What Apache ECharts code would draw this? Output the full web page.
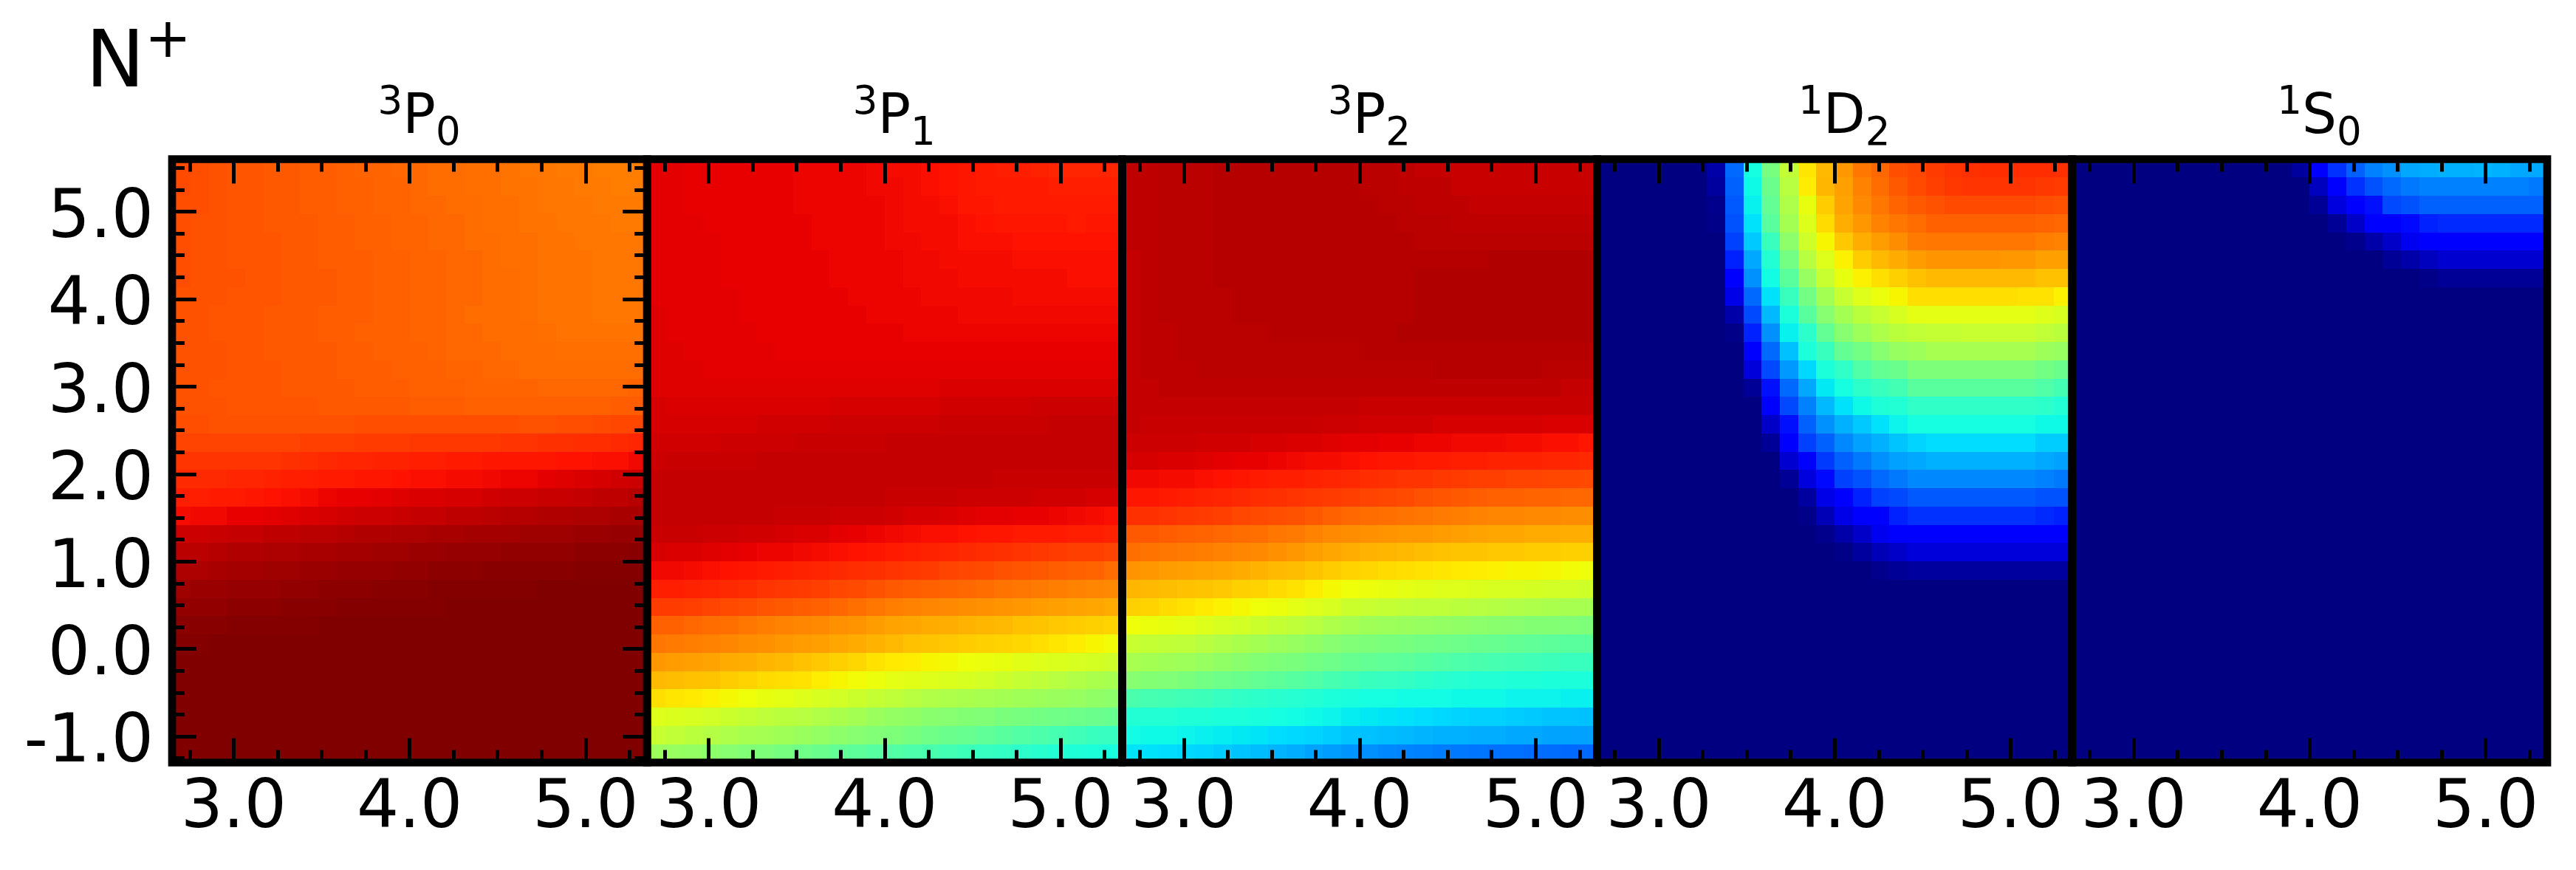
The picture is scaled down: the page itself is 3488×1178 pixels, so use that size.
<!DOCTYPE html>
<html>
<head>
<meta charset="utf-8">
<title>N+</title>
<style>
html, body { margin: 0; padding: 0; background: #fff; }
#chart { width: 3488px; height: 1178px; }
</style>
<script src="https://cdn.jsdelivr.net/npm/echarts@6/dist/echarts.min.js"></script>
</head>
<body>
<div id="chart"></div>
<script>
var panelNames = [['3', 'P', '0'], ['3', 'P', '1'], ['3', 'P', '2'], ['1', 'D', '2'], ['1', 'S', '0']];

// bin centres, y from the top of the panel down
var xBins = [2.702,2.806,2.910,3.014,3.117,3.221,3.325,3.429,3.533,3.637,3.740,3.844,3.948,4.052,4.156,4.260,4.363,4.467,4.571,4.675,4.779,4.883,4.986,5.090,5.194,5.298];
var yBins = [5.495,5.286,5.077,4.868,4.659,4.450,4.241,4.032,3.823,3.614,3.405,3.195,2.986,2.777,2.568,2.359,2.150,1.941,1.732,1.523,1.314,1.105,0.895,0.686,0.477,0.268,0.059,-0.150,-0.359,-0.568,-0.777,-0.986,-1.195];

var xMajor = [3, 4, 5];
var xMinor = [2.75, 3.25, 3.5, 3.75, 4.25, 4.5, 4.75, 5.25];
var yMajor = [-1, 0, 1, 2, 3, 4, 5];
var yMinor = [-1.25, -0.75, -0.5, -0.25, 0.25, 0.5, 0.75, 1.25, 1.5, 1.75, 2.25, 2.5, 2.75, 3.25, 3.5, 3.75, 4.25, 4.5, 4.75, 5.25, 5.5];

// jet index 0-255 per cell, rows listed from the top of the panel down
var p3P0 = [
[212,211,210,209,209,208,208,207,207,206,205,205,204,204,203,203,202,202,201,200,200,199,199,198,198,198],
[212,211,210,209,209,208,208,207,207,206,206,205,205,204,203,203,202,202,201,201,200,200,199,199,198,198],
[211,211,210,209,209,208,208,207,207,206,206,205,205,204,204,203,203,202,202,201,200,200,200,199,199,199],
[211,210,210,209,209,208,208,208,207,207,206,206,205,205,204,204,203,202,202,201,201,200,200,200,199,199],
[211,210,210,209,209,209,208,208,207,207,206,206,205,205,204,204,203,203,202,202,201,201,200,200,200,200],
[211,210,210,209,209,209,208,208,207,207,207,206,206,205,205,204,204,203,202,202,201,201,201,200,200,200],
[211,210,210,210,209,209,208,208,208,207,207,206,206,205,205,204,204,203,203,202,201,201,201,200,200,200],
[210,210,210,209,209,209,208,208,208,207,207,206,206,205,205,204,204,203,203,202,201,201,201,200,200,200],
[210,210,209,209,209,208,208,208,207,207,207,206,206,205,205,204,203,203,203,202,201,201,201,200,200,200],
[210,210,209,209,209,208,208,208,207,207,206,206,206,205,205,204,204,203,203,203,202,201,201,201,201,201],
[210,210,210,209,209,208,208,208,208,207,207,206,206,206,205,204,204,204,203,203,203,202,202,202,202,202],
[210,210,210,209,209,209,208,208,208,207,207,207,206,206,206,205,205,204,204,203,203,203,203,203,203,203],
[210,210,209,209,209,209,208,208,208,208,207,207,207,206,206,206,205,205,205,205,204,204,204,204,204,205],
[210,210,210,209,209,209,209,209,208,208,208,208,208,207,207,207,206,206,206,206,206,206,206,206,207,207],
[211,211,210,210,210,210,210,210,210,210,211,211,211,211,211,211,211,211,211,210,210,211,211,212,213,213],
[214,214,214,214,214,214,214,215,215,215,216,216,216,217,217,217,217,217,218,218,219,219,220,220,221,222],
[218,218,218,218,218,218,219,220,221,222,222,223,223,224,224,225,225,226,226,226,226,227,227,228,228,230],
[221,221,221,222,222,223,224,224,225,225,226,226,227,228,228,229,229,230,231,231,233,234,235,236,237,238],
[224,224,225,225,226,227,228,229,231,232,232,233,234,235,235,236,236,237,238,238,239,239,240,241,241,243],
[229,230,230,232,232,233,234,235,236,237,238,238,239,240,240,241,241,242,243,243,244,244,245,245,246,246],
[238,238,239,240,240,241,241,242,242,243,244,244,245,245,246,246,247,247,247,248,248,248,249,249,250,250],
[242,242,243,244,244,245,245,246,246,247,247,248,248,249,249,250,250,250,251,251,251,251,252,252,252,253],
[245,245,246,247,247,248,248,249,249,250,250,250,251,251,252,252,252,253,253,253,253,253,254,254,254,254],
[248,249,249,250,250,250,251,251,252,252,252,253,253,253,254,254,254,254,254,254,255,255,255,255,255,255],
[251,251,251,252,252,252,253,253,253,254,254,254,254,254,254,255,255,255,255,255,255,255,255,255,255,255],
[253,253,253,254,254,254,254,254,255,255,255,255,255,255,255,255,255,255,255,255,255,255,255,255,255,255],
[254,254,255,255,255,255,255,255,255,255,255,255,255,255,255,255,255,255,255,255,255,255,255,255,255,255],
[255,255,255,255,255,255,255,255,255,255,255,255,255,255,255,255,255,255,255,255,255,255,255,255,255,255],
[255,255,255,255,255,255,255,255,255,255,255,255,255,255,255,255,255,255,255,255,255,255,255,255,255,255],
[255,255,255,255,255,255,255,255,255,255,255,255,255,255,255,255,255,255,255,255,255,255,255,255,255,255],
[255,255,255,255,255,255,255,255,255,255,255,255,255,255,255,255,255,255,255,255,255,255,255,255,255,255],
[255,255,255,255,255,255,255,255,255,255,255,255,255,255,255,255,255,255,255,255,255,255,255,255,255,255],
[255,255,255,255,255,255,255,255,255,255,255,255,255,255,255,255,255,255,255,255,255,255,255,255,255,255]
];
var p3P1 = [
[233,233,232,232,232,232,232,232,231,231,231,231,230,229,229,228,227,226,225,224,224,223,222,222,222,222],
[233,233,232,232,232,232,232,232,231,231,231,231,230,230,229,228,227,226,225,225,225,225,224,224,224,224],
[233,233,232,232,232,232,232,232,231,231,231,231,231,230,229,229,228,226,226,225,225,225,225,225,225,225],
[233,233,233,232,232,232,232,232,232,231,231,231,231,230,229,229,229,228,227,226,226,226,226,225,226,226],
[233,233,233,233,232,232,232,232,232,231,231,231,231,230,230,229,229,228,228,228,227,227,227,227,227,227],
[233,233,233,233,232,232,232,232,232,232,231,231,231,231,230,230,229,229,229,229,228,228,228,228,228,228],
[233,233,233,233,232,232,232,232,232,232,231,231,231,231,230,230,230,229,229,229,229,229,229,228,228,228],
[233,233,233,233,233,232,232,232,232,232,232,231,231,231,231,230,230,230,230,230,229,229,229,229,229,229],
[234,233,233,233,233,232,232,232,232,232,232,232,231,231,231,231,231,230,230,230,230,230,230,230,230,230],
[234,233,233,233,233,233,232,232,232,232,232,232,232,232,231,231,231,231,231,231,231,231,231,231,231,231],
[234,234,233,233,233,233,233,232,232,232,232,232,232,232,232,232,232,232,232,232,232,232,232,232,232,232],
[234,234,234,233,233,233,233,233,233,233,233,233,233,233,233,233,233,233,233,233,233,233,233,233,233,233],
[234,234,234,234,234,234,234,234,234,234,234,234,234,234,234,234,235,235,235,235,235,235,235,235,235,235],
[236,235,235,235,235,235,235,235,235,235,236,236,236,236,236,236,237,237,237,237,237,238,238,238,238,238],
[236,236,236,236,236,236,237,237,237,237,238,238,238,238,238,238,239,239,239,239,239,239,240,240,240,240],
[237,237,237,237,238,238,238,238,239,239,239,239,239,240,240,240,240,240,240,240,240,240,240,240,240,240],
[238,239,239,239,239,239,240,240,240,240,240,240,240,240,240,240,240,240,240,240,240,240,240,240,240,240],
[240,240,240,240,240,240,240,240,240,240,240,240,240,240,240,240,240,240,240,239,239,239,239,239,239,239],
[240,240,240,240,240,240,240,240,240,240,240,240,240,239,239,239,239,238,238,238,238,237,237,237,236,236],
[240,240,240,240,240,240,240,239,239,239,238,238,238,237,236,236,235,234,233,233,232,232,231,230,229,228],
[239,239,239,238,238,237,237,236,235,235,233,232,231,230,229,228,228,227,226,226,225,225,225,224,224,223],
[236,235,235,234,233,232,231,231,230,229,228,227,226,225,224,223,222,221,220,219,218,217,216,215,215,214],
[230,230,229,228,227,226,225,224,223,222,221,220,219,218,217,216,214,213,212,210,209,208,207,206,205,203],
[224,224,223,222,221,220,218,217,216,215,213,212,210,208,207,206,205,204,203,201,200,199,198,197,196,195],
[216,216,215,214,212,211,209,208,207,206,204,202,200,198,197,196,195,194,193,192,191,190,189,188,187,186],
[206,206,204,203,202,200,198,197,196,195,193,192,190,188,187,186,185,184,183,182,180,179,178,177,176,175],
[200,199,198,197,196,194,193,191,190,189,187,186,184,182,180,179,178,177,176,175,174,172,170,168,166,164],
[191,190,189,188,186,185,183,182,180,178,176,174,171,169,168,166,165,163,162,161,159,158,157,156,155,153],
[182,181,180,179,177,175,173,172,171,168,166,164,162,160,159,158,157,156,154,152,150,148,146,144,142,141],
[172,170,169,167,165,163,161,160,158,156,154,152,150,148,146,144,143,142,141,140,139,138,137,136,134,133],
[158,157,156,154,152,150,148,147,146,144,142,140,137,135,134,132,131,130,129,127,126,125,124,123,122,121],
[151,149,147,145,143,141,140,139,137,135,133,131,129,128,126,124,122,121,119,117,115,113,111,109,107,106],
[137,136,135,133,131,129,128,126,124,122,120,118,116,115,113,112,110,108,106,105,103,102,100,99,98,97]
];
var p3P2 = [
[241,241,242,242,242,243,243,243,243,243,243,243,243,242,242,241,240,240,239,239,239,239,239,239,239,239],
[241,241,242,242,242,243,243,243,243,243,243,243,243,242,242,241,241,241,239,239,239,239,239,239,239,239],
[241,241,242,242,242,243,243,243,243,243,243,243,243,243,242,242,241,241,241,240,240,240,240,240,240,240],
[241,241,242,242,242,243,243,243,243,243,243,243,243,243,243,242,242,242,241,241,241,241,241,241,241,241],
[241,241,242,242,242,243,243,243,243,243,243,243,243,243,243,243,242,242,242,242,242,242,242,242,242,242],
[240,241,242,242,242,243,243,243,243,243,243,243,243,243,243,243,243,243,243,243,244,244,244,244,244,244],
[240,241,242,242,242,243,243,243,243,243,243,243,243,243,243,243,244,244,244,244,244,244,244,244,244,244],
[240,241,242,242,242,242,243,243,243,243,243,243,243,243,243,243,244,244,244,244,244,244,244,244,244,244],
[240,241,242,242,242,242,243,243,243,243,243,243,243,243,243,243,244,244,244,244,244,244,244,244,244,244],
[240,241,241,242,242,242,242,242,243,243,243,243,243,243,243,244,244,244,244,244,244,244,244,244,244,244],
[240,241,241,242,242,242,242,242,242,242,242,242,242,243,243,243,243,243,243,243,243,243,243,243,243,243],
[240,241,241,241,242,242,242,242,242,242,242,242,242,242,242,242,242,243,243,243,243,243,243,242,242,242],
[240,240,241,241,241,241,241,241,241,241,241,241,241,241,241,241,241,241,241,241,241,241,241,241,240,240],
[240,240,240,240,240,240,240,240,240,240,240,240,240,239,239,239,239,239,239,239,239,239,239,239,239,239],
[240,239,239,239,239,239,239,239,239,239,239,238,238,237,237,237,237,236,236,236,236,236,236,235,235,235],
[238,238,238,238,237,237,237,236,236,235,235,234,233,233,232,232,231,231,230,230,230,229,229,228,228,226],
[236,236,235,235,234,233,232,232,231,230,229,229,228,227,226,226,225,225,224,224,223,223,223,222,222,221],
[230,230,229,229,228,227,226,225,224,224,223,222,221,220,219,218,218,217,216,215,215,214,214,213,213,212],
[226,226,225,224,223,222,221,220,219,218,217,216,215,214,213,212,210,209,208,207,206,206,205,205,204,204],
[219,219,218,217,216,215,213,212,211,210,208,206,204,203,202,201,200,199,198,197,196,196,195,195,194,194],
[208,208,207,206,205,204,203,202,200,199,197,195,194,193,192,191,191,190,189,188,187,187,186,186,185,185],
[202,201,200,199,198,197,196,195,193,191,189,187,185,184,183,182,181,180,179,179,178,178,177,177,176,176],
[192,191,190,189,188,187,186,184,182,181,179,177,175,174,173,172,171,170,169,168,167,166,166,165,164,163],
[183,182,181,180,179,178,176,175,173,171,168,165,163,162,161,160,159,158,158,157,156,156,155,154,154,153],
[176,175,173,171,169,167,165,163,162,160,158,156,152,151,150,149,148,148,147,146,145,144,143,142,141,141],
[163,162,161,160,158,156,154,152,150,148,146,143,141,139,138,137,136,135,134,133,132,131,130,130,129,128],
[151,150,149,148,146,144,142,140,138,136,134,131,129,128,127,126,125,124,123,122,121,120,119,118,117,117],
[141,140,139,138,136,134,132,130,128,127,125,123,121,120,119,118,116,115,113,112,111,110,109,108,107,107],
[131,130,129,127,125,123,122,120,118,116,114,111,109,107,106,105,103,102,101,100,100,99,99,98,98,98],
[112,111,110,109,108,106,104,103,102,101,100,98,97,96,96,95,95,95,94,94,94,93,93,93,92,92],
[100,100,100,99,99,98,98,97,96,95,94,93,91,90,89,88,87,86,85,84,84,83,82,81,81,80],
[95,94,94,93,92,91,90,89,87,86,85,83,81,80,79,78,77,76,76,75,75,74,74,73,73,72],
[89,88,87,86,85,83,81,79,77,75,73,71,69,68,66,65,64,63,62,61,60,60,59,59,58,58]
];
var p1D2 = [
[0,0,0,0,0,0,9,58,96,126,149,170,182,191,200,204,211,213,216,218,219,220,220,220,220,219],
[0,0,0,0,0,0,7,56,94,122,146,168,183,189,197,203,208,212,215,217,218,218,218,218,217,216],
[0,0,0,0,0,0,3,54,92,120,143,161,177,188,195,200,205,208,210,212,212,212,212,212,211,210],
[0,0,0,0,0,0,2,52,88,117,140,158,173,185,191,197,200,203,206,206,206,206,206,206,205,204],
[0,0,0,0,0,0,0,48,82,107,133,153,166,178,185,190,194,199,200,200,200,200,200,200,198,197],
[0,0,0,0,0,0,0,40,74,100,125,146,158,167,177,182,186,190,192,192,192,192,191,191,189,189],
[0,0,0,0,0,0,0,30,68,95,117,136,151,161,167,172,176,180,182,182,182,182,182,182,180,180],
[0,0,0,0,0,0,0,23,58,88,107,125,140,151,158,162,166,172,172,172,172,172,172,171,171,167],
[0,0,0,0,0,0,0,9,50,78,98,117,131,140,147,151,156,160,160,160,160,160,160,160,158,156],
[0,0,0,0,0,0,0,2,40,68,92,103,120,131,138,143,147,149,150,150,151,151,151,151,149,147],
[0,0,0,0,0,0,0,0,30,58,80,98,107,120,125,131,136,138,141,141,141,141,141,141,138,136],
[0,0,0,0,0,0,0,0,20,50,70,86,98,104,114,120,122,128,128,128,128,128,128,128,125,122],
[0,0,0,0,0,0,0,0,5,36,58,74,90,96,103,107,110,117,117,117,117,117,117,117,114,110],
[0,0,0,0,0,0,0,0,0,30,50,64,78,88,94,99,100,104,104,104,104,104,104,104,103,100],
[0,0,0,0,0,0,0,0,0,16,36,56,68,76,82,88,93,96,96,96,96,96,96,96,94,94],
[0,0,0,0,0,0,0,0,0,5,30,48,56,66,72,76,81,85,87,87,87,87,87,87,83,83],
[0,0,0,0,0,0,0,0,0,0,18,30,46,56,62,68,72,74,76,76,76,76,76,76,74,72],
[0,0,0,0,0,0,0,0,0,0,5,21,34,48,52,58,62,66,66,66,66,66,66,66,64,62],
[0,0,0,0,0,0,0,0,0,0,0,7,23,30,40,48,50,54,54,54,54,54,54,54,52,52],
[0,0,0,0,0,0,0,0,0,0,0,2,12,23,30,31,40,44,44,44,44,44,44,44,42,40],
[0,0,0,0,0,0,0,0,0,0,0,0,3,9,16,25,30,30,30,30,30,31,30,30,30,30],
[0,0,0,0,0,0,0,0,0,0,0,0,0,2,7,12,16,20,20,20,20,20,20,20,20,20],
[0,0,0,0,0,0,0,0,0,0,0,0,0,0,0,3,5,7,7,7,7,7,7,7,7,7],
[0,0,0,0,0,0,0,0,0,0,0,0,0,0,0,0,0,0,0,0,0,0,0,0,0,0],
[0,0,0,0,0,0,0,0,0,0,0,0,0,0,0,0,0,0,0,0,0,0,0,0,0,0],
[0,0,0,0,0,0,0,0,0,0,0,0,0,0,0,0,0,0,0,0,0,0,0,0,0,0],
[0,0,0,0,0,0,0,0,0,0,0,0,0,0,0,0,0,0,0,0,0,0,0,0,0,0],
[0,0,0,0,0,0,0,0,0,0,0,0,0,0,0,0,0,0,0,0,0,0,0,0,0,0],
[0,0,0,0,0,0,0,0,0,0,0,0,0,0,0,0,0,0,0,0,0,0,0,0,0,0],
[0,0,0,0,0,0,0,0,0,0,0,0,0,0,0,0,0,0,0,0,0,0,0,0,0,0],
[0,0,0,0,0,0,0,0,0,0,0,0,0,0,0,0,0,0,0,0,0,0,0,0,0,0],
[0,0,0,0,0,0,0,0,0,0,0,0,0,0,0,0,0,0,0,0,0,0,0,0,0,0],
[0,0,0,0,0,0,0,0,0,0,0,0,0,0,0,0,0,0,0,0,0,0,0,0,0,0]
];
var p1S0 = [
[0,0,0,0,0,0,0,0,0,0,0,0,7,30,44,56,64,68,74,75,76,76,77,76,74,74],
[0,0,0,0,0,0,0,0,0,0,0,0,0,14,30,44,52,58,62,64,64,64,64,64,64,62],
[0,0,0,0,0,0,0,0,0,0,0,0,0,5,21,30,36,50,52,56,56,56,56,56,56,56],
[0,0,0,0,0,0,0,0,0,0,0,0,0,0,5,16,30,30,34,40,42,42,42,42,42,42],
[0,0,0,0,0,0,0,0,0,0,0,0,0,0,0,3,9,16,25,30,30,30,30,30,30,30],
[0,0,0,0,0,0,0,0,0,0,0,0,0,0,0,0,0,5,9,14,18,18,18,18,18,18],
[0,0,0,0,0,0,0,0,0,0,0,0,0,0,0,0,0,0,0,2,5,5,5,5,5,5],
[0,0,0,0,0,0,0,0,0,0,0,0,0,0,0,0,0,0,0,0,0,0,0,0,0,0],
[0,0,0,0,0,0,0,0,0,0,0,0,0,0,0,0,0,0,0,0,0,0,0,0,0,0],
[0,0,0,0,0,0,0,0,0,0,0,0,0,0,0,0,0,0,0,0,0,0,0,0,0,0],
[0,0,0,0,0,0,0,0,0,0,0,0,0,0,0,0,0,0,0,0,0,0,0,0,0,0],
[0,0,0,0,0,0,0,0,0,0,0,0,0,0,0,0,0,0,0,0,0,0,0,0,0,0],
[0,0,0,0,0,0,0,0,0,0,0,0,0,0,0,0,0,0,0,0,0,0,0,0,0,0],
[0,0,0,0,0,0,0,0,0,0,0,0,0,0,0,0,0,0,0,0,0,0,0,0,0,0],
[0,0,0,0,0,0,0,0,0,0,0,0,0,0,0,0,0,0,0,0,0,0,0,0,0,0],
[0,0,0,0,0,0,0,0,0,0,0,0,0,0,0,0,0,0,0,0,0,0,0,0,0,0],
[0,0,0,0,0,0,0,0,0,0,0,0,0,0,0,0,0,0,0,0,0,0,0,0,0,0],
[0,0,0,0,0,0,0,0,0,0,0,0,0,0,0,0,0,0,0,0,0,0,0,0,0,0],
[0,0,0,0,0,0,0,0,0,0,0,0,0,0,0,0,0,0,0,0,0,0,0,0,0,0],
[0,0,0,0,0,0,0,0,0,0,0,0,0,0,0,0,0,0,0,0,0,0,0,0,0,0],
[0,0,0,0,0,0,0,0,0,0,0,0,0,0,0,0,0,0,0,0,0,0,0,0,0,0],
[0,0,0,0,0,0,0,0,0,0,0,0,0,0,0,0,0,0,0,0,0,0,0,0,0,0],
[0,0,0,0,0,0,0,0,0,0,0,0,0,0,0,0,0,0,0,0,0,0,0,0,0,0],
[0,0,0,0,0,0,0,0,0,0,0,0,0,0,0,0,0,0,0,0,0,0,0,0,0,0],
[0,0,0,0,0,0,0,0,0,0,0,0,0,0,0,0,0,0,0,0,0,0,0,0,0,0],
[0,0,0,0,0,0,0,0,0,0,0,0,0,0,0,0,0,0,0,0,0,0,0,0,0,0],
[0,0,0,0,0,0,0,0,0,0,0,0,0,0,0,0,0,0,0,0,0,0,0,0,0,0],
[0,0,0,0,0,0,0,0,0,0,0,0,0,0,0,0,0,0,0,0,0,0,0,0,0,0],
[0,0,0,0,0,0,0,0,0,0,0,0,0,0,0,0,0,0,0,0,0,0,0,0,0,0],
[0,0,0,0,0,0,0,0,0,0,0,0,0,0,0,0,0,0,0,0,0,0,0,0,0,0],
[0,0,0,0,0,0,0,0,0,0,0,0,0,0,0,0,0,0,0,0,0,0,0,0,0,0],
[0,0,0,0,0,0,0,0,0,0,0,0,0,0,0,0,0,0,0,0,0,0,0,0,0,0],
[0,0,0,0,0,0,0,0,0,0,0,0,0,0,0,0,0,0,0,0,0,0,0,0,0,0]
];
var panels = [p3P0, p3P1, p3P2, p1D2, p1S0];

// matplotlib jet, piecewise linear
var jetR = [[0,0],[0.35,0],[0.66,1],[0.89,1],[1,0.5]];
var jetG = [[0,0],[0.125,0],[0.375,1],[0.64,1],[0.91,0],[1,0]];
var jetB = [[0,0.5],[0.11,1],[0.34,1],[0.65,0],[1,0]];
function lerp(stops, t){
	for(var i=1;i<stops.length;i++)
	{
		if(t<=stops[i][0])
		{
			var f = (t-stops[i-1][0])/(stops[i][0]-stops[i-1][0]);
			return stops[i-1][1]+f*(stops[i][1]-stops[i-1][1]);
		}
	}
	return stops[stops.length-1][1];
}
var jetColors = [];
for(var k=0;k<256;k++)
{
	var t = k/255;
	jetColors.push('rgb('+Math.round(255*lerp(jetR,t))+','+Math.round(255*lerp(jetG,t))+','+Math.round(255*lerp(jetB,t))+')');
}

var FONT = 'DejaVu Sans';
var gridLeft = 233, gridTop = 215.5, gridW = 643.2, gridH = 817;
var xMin = 2.65, xMax = 5.35, yMin = -1.3, yMax = 5.6;
var binW = (xMax-xMin)/xBins.length, binH = (yMax-yMin)/yBins.length;
var MAJOR = 33, MINOR = 17;

var grids = [], xAxes = [], yAxes = [], series = [], titles = [];

function tickAxis(gridIndex, position, ticks, len, labels){
	var isX = position=='top' || position=='bottom';
	var label = {
		show:!!labels,
		customValues:ticks,
		margin:position=='left'?25:19,
		fontFamily:FONT,
		fontSize:90,
		color:'#000',
		formatter:function(v){ return v.toFixed(1); }
	};
	// a short line box hung from the tick puts the digits level with it
	if(position=='left')
	{
		label.verticalAlign = 'top';
		label.lineHeight = 22;
	}
	return {
		type:'value',
		gridIndex:gridIndex,
		position:position,
		min:isX?xMin:yMin,
		max:isX?xMax:yMax,
		z:6,
		axisLine:{show:false, onZero:false},
		splitLine:{show:false},
		axisTick:{show:true, inside:true, length:len, customValues:ticks, lineStyle:{color:'#000', width:5}},
		axisLabel:label
	};
}

// cells snap to whole pixels and overlap by one so no seams show between them
function renderCell(params, api){
	var lt = api.coord([api.value(0)-binW/2, api.value(1)+binH/2]);
	var rb = api.coord([api.value(0)+binW/2, api.value(1)-binH/2]);
	var x = Math.round(lt[0]), y = Math.round(lt[1]);
	return {
		type:'rect',
		shape:{x:x, y:y, width:Math.round(rb[0])-x+1, height:Math.round(rb[1])-y+1},
		style:{fill:api.visual('color')}
	};
}

for(var p=0;p<panels.length;p++)
{
	grids.push({
		show:true,
		z:5,
		left:gridLeft+p*gridW,
		top:gridTop,
		width:gridW,
		height:gridH,
		backgroundColor:'transparent',
		borderColor:'#000',
		borderWidth:10.7
	});

	var cellX = xAxes.length, cellY = yAxes.length;
	xAxes.push(tickAxis(p,'bottom',xMajor,MAJOR,true));
	xAxes.push(tickAxis(p,'bottom',xMinor,MINOR,false));
	xAxes.push(tickAxis(p,'top',xMajor,MAJOR,false));
	xAxes.push(tickAxis(p,'top',xMinor,MINOR,false));
	if(p==0)
	{
		yAxes.push(tickAxis(p,'left',yMajor,MAJOR,true));
		yAxes.push(tickAxis(p,'left',yMinor,MINOR,false));
		yAxes.push(tickAxis(p,'right',yMajor,MAJOR,false));
		yAxes.push(tickAxis(p,'right',yMinor,MINOR,false));
	}
	else
	{
		yAxes.push({type:'value', gridIndex:p, min:yMin, max:yMax, show:false});
	}

	var cells = [];
	for(var r=0;r<yBins.length;r++)
	{
		for(var c=0;c<xBins.length;c++)
		{
			cells.push([xBins[c], yBins[r], panels[p][r][c]]);
		}
	}
	series.push({
		type:'custom',
		xAxisIndex:cellX,
		yAxisIndex:cellY,
		data:cells,
		encode:{x:0, y:1},
		silent:true,
		progressive:0,
		renderItem:renderCell
	});

	titles.push({
		text:'{s|'+panelNames[p][0]+'}{b|'+panelNames[p][1]+'}{u|'+panelNames[p][2]+'}',
		left:gridLeft+p*gridW+gridW/2+13,
		top:112,
		textAlign:'center',
		padding:0,
		textStyle:{
			rich:{
				s:{fontFamily:FONT, fontWeight:'normal', fontSize:53, color:'#000', padding:[0,0,40,0]},
				b:{fontFamily:FONT, fontWeight:'normal', fontSize:74, color:'#000'},
				u:{fontFamily:FONT, fontWeight:'normal', fontSize:53, color:'#000', padding:[44,0,0,0]}
			}
		}
	});
}

titles.push({
	text:'{b|N}{s|+}',
	left:116,
	top:20,
	padding:0,
	textStyle:{
		rich:{
			b:{fontFamily:FONT, fontWeight:'normal', fontSize:107, color:'#000'},
			s:{fontFamily:FONT, fontWeight:'normal', fontSize:75, color:'#000', padding:[0,0,63,0]}
		}
	}
});

var eChart = echarts.init(document.getElementById('chart'));
eChart.setOption({
	animation:false,
	backgroundColor:'#fff',
	title:titles,
	grid:grids,
	xAxis:xAxes,
	yAxis:yAxes,
	visualMap:{show:false, type:'continuous', min:0, max:255, dimension:2, inRange:{color:jetColors}},
	series:series
});
</script>
</body>
</html>
